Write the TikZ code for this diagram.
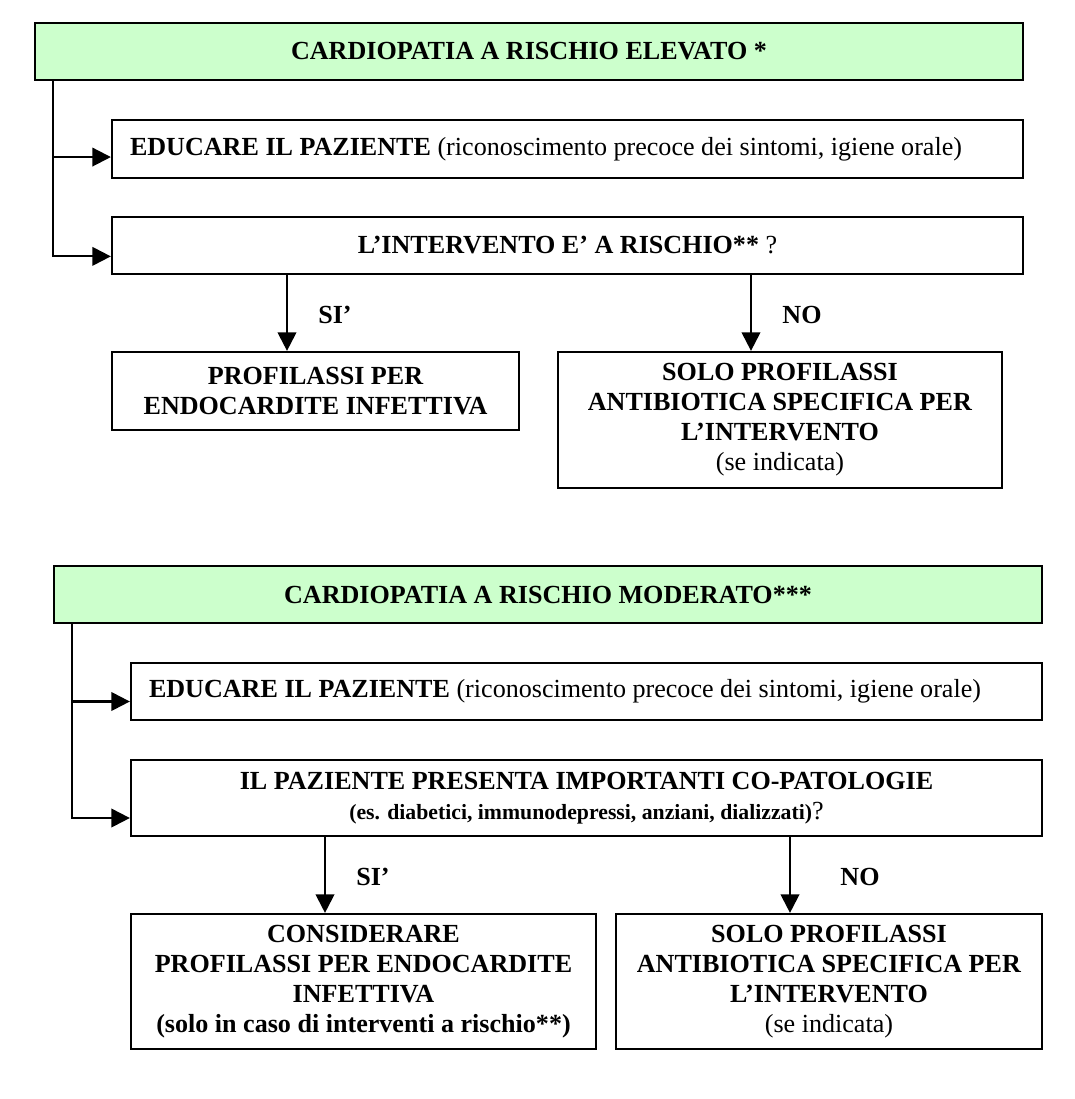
\documentclass[tikz,border=0pt]{standalone}
\usepackage{fontspec}
\setmainfont{Liberation Serif}
\usetikzlibrary{arrows.meta}
\definecolor{EndoHeadFill}{HTML}{CCFFCC}
\definecolor{EndoStroke}{HTML}{000000}

\begin{document}
\begin{tikzpicture}[x=0.46pt,y=-0.46pt,
  font=\fontsize{12}{13.8}\selectfont,
  box/.style={draw=EndoStroke,line width=1pt,inner sep=0pt,align=center},
  headbox/.style={box,fill=EndoHeadFill,font=\fontsize{12}{13.8}\selectfont\bfseries,minimum width=454.5pt,minimum height=26.2pt},
  linebox/.style={box,align=flush left,inner xsep=8.3pt,text width=402.5pt,minimum height=26.5pt},
  arr/.style={line width=1pt,-{Triangle[length=8.5pt,width=8.5pt]}},
  answer/.style={font=\fontsize{12}{13.8}\selectfont\bfseries}]
  \useasboundingbox (0,0) rectangle (1075,1099);

  % rischio elevato
  \node[headbox] (hdrA) at (529,51.5) {CARDIOPATIA A RISCHIO ELEVATO *};
  \node[linebox] (eduA) at (567.5,149) {\textbf{EDUCARE IL PAZIENTE} (riconoscimento precoce dei sintomi, igiene orale)};
  \node[box,minimum width=419.1pt,minimum height=26.2pt] (intA) at (567.5,245.5) {\textbf{L’INTERVENTO E’ A RISCHIO**} ?};
  \node[box,font=\fontsize{12}{13.8}\selectfont\bfseries,minimum width=187.2pt,minimum height=35.9pt] (profA) at (315.5,391) {PROFILASSI PER\\ENDOCARDITE INFETTIVA};
  \node[box,minimum width=204.2pt,minimum height=62.6pt] (soloA) at (780,420) {\textbf{SOLO PROFILASSI}\\\textbf{ANTIBIOTICA SPECIFICA PER}\\\textbf{L’INTERVENTO}\\(se indicata)};
  \node[answer] (siA) at (335,315) {SI’};
  \node[answer] (noA) at (802,315) {NO};

  \draw[arr] ([xshift=8.7pt]hdrA.south west) |- ([yshift=-3.7pt]eduA.west);
  \draw[arr] ([xshift=8.7pt]hdrA.south west) |- ([yshift=-5pt]intA.west);
  \draw[arr] (intA.south -| 287,0) -- (profA.north -| 287,0);
  \draw[arr] (intA.south -| 751,0) -- (soloA.north -| 751,0);

  % rischio moderato
  \node[headbox] (hdrB) at (548,594.5) {CARDIOPATIA A RISCHIO MODERATO***};
  \node[linebox] (eduB) at (586.5,691.5) {\textbf{EDUCARE IL PAZIENTE} (riconoscimento precoce dei sintomi, igiene orale)};
  \node[box,minimum width=419.1pt,minimum height=35pt] (pazB) at (586.5,798) {\textbf{IL PAZIENTE PRESENTA IMPORTANTI CO-PATOLOGIE}\\{\fontsize{10}{13.8}\selectfont\bfseries (es. diabetici, immunodepressi, anziani, dializzati)}?};
  \node[box,font=\fontsize{12}{13.8}\selectfont\bfseries,minimum width=213.9pt,minimum height=62.1pt] (consB) at (363.5,981.5) {CONSIDERARE\\PROFILASSI PER ENDOCARDITE\\INFETTIVA\\(solo in caso di interventi a rischio**)};
  \node[box,minimum width=196pt,minimum height=62.1pt] (soloB) at (829,981.5) {\textbf{SOLO PROFILASSI}\\\textbf{ANTIBIOTICA SPECIFICA PER}\\\textbf{L’INTERVENTO}\\(se indicata)};
  \node[answer] (siB) at (373,877) {SI’};
  \node[answer] (noB) at (860,877) {NO};

  \draw[arr] ([xshift=8.7pt]hdrB.south west) |- ([yshift=-4.6pt]eduB.west);
  \draw[arr] ([xshift=8.7pt]hdrB.south west) |- ([yshift=-9.2pt]pazB.west);
  \draw[arr] (pazB.south -| 325,0) -- (consB.north -| 325,0);
  \draw[arr] (pazB.south -| 790,0) -- (soloB.north -| 790,0);
\end{tikzpicture}
\end{document}
